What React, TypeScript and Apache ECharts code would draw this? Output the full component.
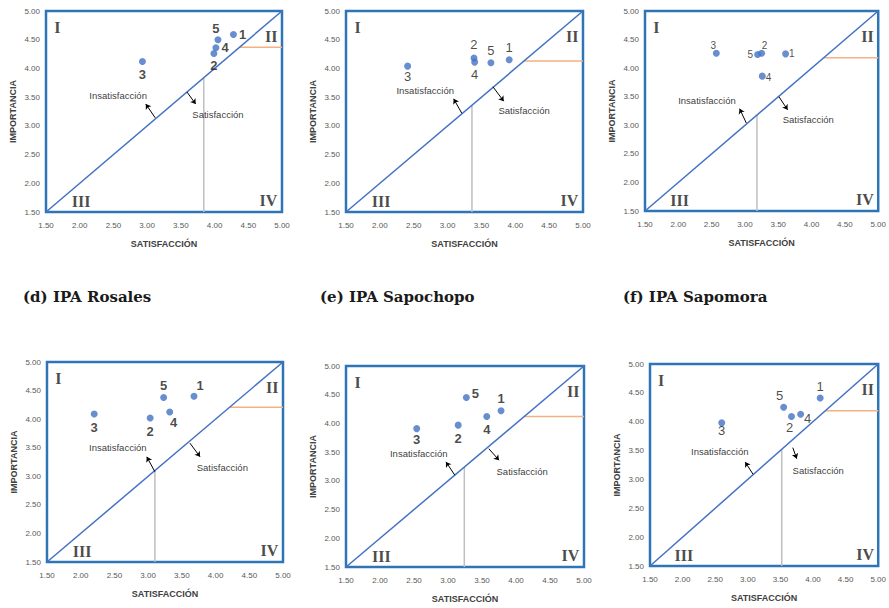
import React, { useEffect, useRef } from "react";
import * as echarts from "echarts";

// ---- data ----
const pointNames = ["1", "2", "3", "4", "5"];
const satP1 = [4.28, 3.99, 2.93, 4.02, 4.05];
const impP1 = [4.59, 4.26, 4.12, 4.36, 4.5];
const satP2 = [3.91, 3.39, 2.41, 3.4, 3.64];
const impP2 = [4.15, 4.18, 4.04, 4.11, 4.1];
const satP3 = [3.61, 3.25, 2.57, 3.26, 3.19];
const impP3 = [4.25, 4.26, 4.26, 3.86, 4.24];
const satP4 = [3.68, 3.03, 2.2, 3.32, 3.23];
const impP4 = [4.4, 4.02, 4.09, 4.125, 4.38];
const satP5 = [3.78, 3.15, 2.54, 3.57, 3.27];
const impP5 = [4.22, 3.97, 3.91, 4.12, 4.45];
const satP6 = [4.11, 3.67, 2.6, 3.81, 3.55];
const impP6 = [4.41, 4.09, 3.98, 4.13, 4.25];
const meanSat = [3.84, 3.36, 3.18, 3.1, 3.24, 3.52];
const meanImp = [4.37, 4.13, 4.18, 4.21, 4.12, 4.19];
const axisMin = 1.5;
const axisMax = 5;
const axisStep = 0.5;
const panelTitles = ["(d) IPA Rosales", "(e) IPA Sapochopo", "(f) IPA Sapomora"];
const quadrantNames = ["I", "II", "III", "IV"];
const xTitle = "SATISFACCIÓN";
const yTitle = "IMPORTANCIA";
const insText = "Insatisfacción";
const satText = "Satisfacción";

// ---- layout / style ----
const grids = [
  { left: 46, top: 11, width: 236, height: 201 },
  { left: 346, top: 11, width: 237, height: 201 },
  { left: 645, top: 11, width: 237, height: 200 },
  { left: 47, top: 362, width: 236, height: 200 },
  { left: 346, top: 366, width: 238, height: 201 },
  { left: 650, top: 364, width: 235, height: 202 },
];
const sats = [satP1, satP2, satP3, satP4, satP5, satP6];
const imps = [impP1, impP2, impP3, impP4, impP5, impP6];
// label placement per panel [position, offsetX, offsetY]
const labelPlace: [string, number, number][][] = [
  [["right", 0, 0], ["bottom", 0, 0], ["bottom", 0, 1], ["right", 0, 0], ["top", -2, 1]],
  [["top", 0, 0], ["top", 0, -2], ["bottom", 0, -2], ["bottom", 0, 0], ["top", 0, 0]],
  [["right", -2, 0], ["top", 3, 3], ["top", -3, 3], ["right", -2, 1], ["left", 1, 0]],
  [["top", 6, 1], ["bottom", 0, 1], ["bottom", 0, 1], ["bottom", 4, -2], ["top", 0, 0]],
  [["top", 0, 0], ["bottom", 0, 1], ["bottom", 0, -1], ["bottom", 0, 1], ["right", 0, -4]],
  [["top", 0, 0], ["bottom", -2, -1], ["bottom", 0, -4], ["right", -2, 4], ["top", -4, 0]],
];
const labelFont = [
  { size: 13, weight: "bold" },
  { size: 13, weight: "normal" },
  { size: 10, weight: "normal" },
  { size: 13, weight: "bold" },
  { size: 13, weight: "bold" },
  { size: 13, weight: "normal" },
];
// annotation positions in data coords
const insPos = [[2.57, 3.52], [2.67, 3.61], [2.43, 3.44], [2.55, 3.5], [2.57, 3.47], [2.57, 3.49]];
const satPos = [[4.05, 3.19], [4.13, 3.26], [3.95, 3.11], [4.1, 3.16], [4.09, 3.17], [4.08, 3.16]];
const insArrow = [
  [[3.12, 3.14], [2.98, 3.38]],
  [[3.21, 3.22], [3.09, 3.47]],
  [[3.02, 3.04], [2.92, 3.29]],
  [[3.1, 3.08], [2.98, 3.34]],
  [[3.1, 3.1], [2.97, 3.33]],
  [[3.08, 3.09], [2.96, 3.3]],
];
const satArrow = [
  [[3.59, 3.59], [3.72, 3.38]],
  [[3.67, 3.68], [3.83, 3.43]],
  [[3.51, 3.5], [3.64, 3.27]],
  [[3.62, 3.58], [3.77, 3.34]],
  [[3.6, 3.56], [3.75, 3.36]],
  [[3.69, 3.55], [3.75, 3.36]],
];
const quadPos = [[1.67, 4.72], [4.84, 4.56], [2.02, 1.68], [4.8, 1.7]];

const BLUE = "#4472C4";
const BORDER = "#2E75B6";

export default function App() {
  const ref = useRef<HTMLDivElement>(null);
  useEffect(() => {
    if (!ref.current) return;
    const chart = echarts.init(ref.current, undefined, { renderer: "svg" });
    const xAxis: any[] = [];
    const yAxis: any[] = [];
    const series: any[] = [];
    grids.forEach((g, i) => {
      xAxis.push({
        type: "value",
        gridIndex: i,
        min: axisMin,
        max: axisMax,
        interval: axisStep,
        name: xTitle,
        nameLocation: "middle",
        nameGap: 27,
        nameTextStyle: { fontFamily: "Liberation Sans", fontSize: 9, fontWeight: "bold", color: "#404040" },
        axisLine: { show: false },
        axisTick: { show: false },
        splitLine: { show: false },
        axisLabel: {
          formatter: (v: number) => v.toFixed(2),
          fontFamily: "Liberation Sans",
          fontSize: 8,
          color: "#595959",
          margin: 9,
        },
      });
      yAxis.push({
        type: "value",
        gridIndex: i,
        min: axisMin,
        max: axisMax,
        interval: axisStep,
        name: yTitle,
        nameLocation: "middle",
        nameGap: 29,
        nameRotate: 90,
        nameTextStyle: { fontFamily: "Liberation Sans", fontSize: 9, fontWeight: "bold", color: "#404040" },
        axisLine: { show: false },
        axisTick: { show: false },
        splitLine: { show: false },
        axisLabel: {
          formatter: (v: number) => v.toFixed(2),
          fontFamily: "Liberation Sans",
          fontSize: 8,
          color: "#595959",
          margin: 6,
        },
      });
      const common = { xAxisIndex: i, yAxisIndex: i, silent: true };
      // diagonal with arrows
      series.push({
        ...common,
        type: "line",
        data: [[axisMin, axisMin], [axisMax, axisMax]],
        showSymbol: false,
        lineStyle: { color: BLUE, width: 1.5 },
        z: 2,
        markLine: {
          silent: true,
          symbol: ["none", "arrow"],
          symbolSize: 5,
          label: { show: false },
          lineStyle: { color: "#000", width: 1, type: "solid" },
          data: [
            [{ coord: insArrow[i][0] }, { coord: insArrow[i][1] }],
            [{ coord: satArrow[i][0] }, { coord: satArrow[i][1] }],
          ],
        },
      });
      // mean satisfaction (gray vertical)
      series.push({
        ...common,
        type: "line",
        data: [[meanSat[i], axisMin], [meanSat[i], meanSat[i]]],
        showSymbol: false,
        lineStyle: { color: "#BFBFBF", width: 1.5 },
        z: 1,
      });
      // mean importance (orange horizontal)
      series.push({
        ...common,
        type: "line",
        data: [[meanImp[i], meanImp[i]], [axisMax, meanImp[i]]],
        showSymbol: false,
        lineStyle: { color: "#F4B183", width: 1.5 },
        z: 1,
      });
      // points
      series.push({
        ...common,
        type: "scatter",
        symbolSize: 7,
        itemStyle: { color: BLUE },
        z: 5,
        data: sats[i].map((x, k) => ({
          value: [x, imps[i][k]],
          name: pointNames[k],
          label: {
            position: labelPlace[i][k][0],
            offset: [labelPlace[i][k][1], labelPlace[i][k][2]],
          },
        })),
        label: {
          show: true,
          formatter: (p: any) => p.name,
          fontFamily: "Liberation Sans",
          fontSize: labelFont[i].size,
          fontWeight: labelFont[i].weight,
          color: "#1a1a1a",
          distance: 2,
        },
      });
      // annotations
      series.push({
        ...common,
        type: "scatter",
        symbolSize: 0,
        z: 6,
        data: [
          { value: insPos[i], name: insText },
          { value: satPos[i], name: satText },
        ],
        label: {
          show: true,
          position: "inside",
          formatter: (p: any) => p.name,
          fontFamily: "Liberation Sans",
          fontSize: 9.5,
          color: "#000",
        },
      });
      series.push({
        ...common,
        type: "scatter",
        symbolSize: 0,
        z: 6,
        data: quadrantNames.map((n, k) => ({ value: quadPos[k], name: n })),
        label: {
          show: true,
          position: "inside",
          formatter: (p: any) => p.name,
          fontFamily: "Liberation Serif",
          fontSize: 16,
          fontWeight: "bold",
          color: "#1a1a1a",
        },
      });
    });
    const titleLeft = [23, 320, 623];
    chart.setOption({
      animation: false,
      backgroundColor: "#fff",
      title: panelTitles.map((t, k) => ({
        text: t,
        left: titleLeft[k],
        top: 289,
        padding: 0,
        textStyle: { fontFamily: "DejaVu Serif", fontSize: 15, fontWeight: "bold", color: "#1a1a1a" },
      })),
      grid: grids.map((g) => ({
        ...g,
        show: true,
        borderColor: BORDER,
        borderWidth: 2.5,
        backgroundColor: "transparent",
        containLabel: false,
      })),
      xAxis,
      yAxis,
      series,
    });
    return () => chart.dispose();
  }, []);
  return (
    <div
      ref={ref}
      style={{ position: "absolute", left: 0, top: 0, width: 889, height: 608, background: "#fff" }}
    />
  );
}
